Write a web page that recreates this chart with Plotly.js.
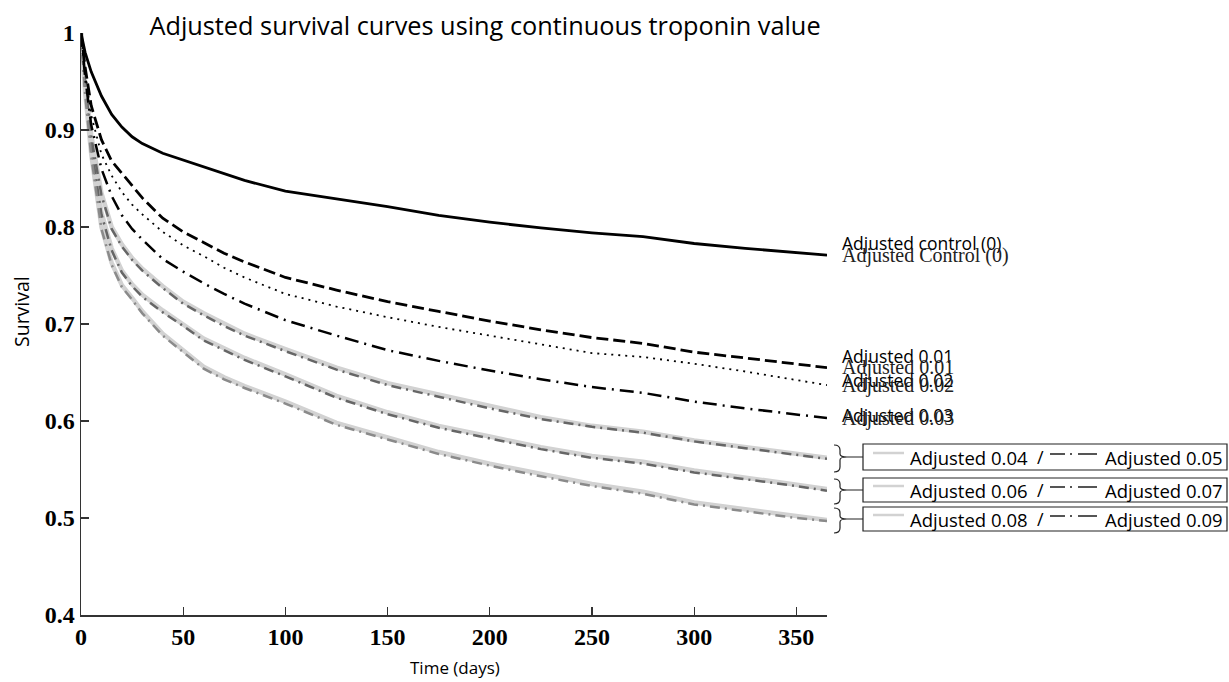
<!DOCTYPE html>
<html>
<head>
<meta charset="utf-8">
<script src="https://cdn.plot.ly/plotly-3.0.1.min.js"></script>
<style>html,body{margin:0;padding:0;background:#fff;}#chart{width:1229px;height:682px;}</style>
</head>
<body>
<div id="chart"></div>
<script>
// ---- data ----
const days = [0, 2, 5, 10, 15, 20, 25, 30, 40, 50, 60, 70, 80, 100, 125, 150, 175, 200, 225, 250, 275, 300, 325, 350, 365];

const control0 = [1.0, 0.980, 0.960, 0.935, 0.916, 0.903, 0.893, 0.886, 0.876, 0.869, 0.862, 0.855, 0.848, 0.837, 0.829, 0.821, 0.812, 0.805, 0.799, 0.794, 0.790, 0.783, 0.778, 0.774, 0.771];
const adj001 = [1.0, 0.965, 0.925, 0.890, 0.868, 0.855, 0.843, 0.830, 0.809, 0.795, 0.784, 0.773, 0.764, 0.748, 0.735, 0.723, 0.713, 0.703, 0.694, 0.686, 0.680, 0.671, 0.665, 0.659, 0.655];
const adj002 = [1.0, 0.960, 0.915, 0.875, 0.853, 0.836, 0.823, 0.813, 0.795, 0.781, 0.770, 0.758, 0.748, 0.731, 0.718, 0.707, 0.697, 0.688, 0.679, 0.670, 0.666, 0.659, 0.651, 0.642, 0.637];
const adj003 = [1.0, 0.955, 0.905, 0.860, 0.832, 0.812, 0.798, 0.787, 0.767, 0.754, 0.742, 0.731, 0.721, 0.704, 0.688, 0.673, 0.662, 0.652, 0.643, 0.635, 0.629, 0.620, 0.613, 0.607, 0.603];
const adj004 = [1.0, 0.950, 0.895, 0.835, 0.800, 0.782, 0.768, 0.757, 0.739, 0.723, 0.711, 0.700, 0.690, 0.674, 0.655, 0.639, 0.627, 0.615, 0.604, 0.595, 0.589, 0.580, 0.573, 0.566, 0.562];
const adj005 = [1.0, 0.948, 0.893, 0.833, 0.798, 0.780, 0.766, 0.755, 0.737, 0.721, 0.709, 0.698, 0.688, 0.672, 0.653, 0.637, 0.625, 0.613, 0.602, 0.594, 0.588, 0.579, 0.572, 0.565, 0.561];
const adj006 = [1.0, 0.945, 0.885, 0.815, 0.778, 0.755, 0.741, 0.730, 0.714, 0.700, 0.685, 0.675, 0.665, 0.648, 0.626, 0.609, 0.595, 0.584, 0.573, 0.564, 0.558, 0.549, 0.542, 0.535, 0.530];
const adj007 = [1.0, 0.943, 0.883, 0.813, 0.776, 0.753, 0.739, 0.728, 0.712, 0.698, 0.683, 0.673, 0.663, 0.646, 0.624, 0.607, 0.593, 0.582, 0.571, 0.562, 0.556, 0.547, 0.540, 0.533, 0.528];
const adj008 = [1.0, 0.940, 0.875, 0.800, 0.763, 0.740, 0.727, 0.713, 0.690, 0.673, 0.656, 0.645, 0.636, 0.620, 0.598, 0.583, 0.568, 0.556, 0.545, 0.535, 0.527, 0.516, 0.509, 0.502, 0.498];
const adj009 = [1.0, 0.938, 0.873, 0.798, 0.761, 0.738, 0.725, 0.711, 0.688, 0.671, 0.654, 0.643, 0.634, 0.618, 0.596, 0.581, 0.566, 0.554, 0.543, 0.533, 0.525, 0.514, 0.507, 0.500, 0.497];

const xTicks = [0, 50, 100, 150, 200, 250, 300, 350];
const yTicks = [0.4, 0.5, 0.6, 0.7, 0.8, 0.9, 1];
const yTickText = ['0.4', '0.5', '0.6', '0.7', '0.8', '0.9', '1'];

const titleText = 'Adjusted survival curves using continuous troponin value';
const xTitle = 'Time (days)';
const yTitle = 'Survival';

// ---- layout geometry (pixels) ----
const W = 1229, H = 682;
const L = 81, R = 827, T = 33, B = 615;
const px = v => (v - L) / (R - L);
const py = v => (B - v) / (B - T);

const SANS = 'Open Sans, sans-serif';
const SERIF = 'Liberation Serif, Times New Roman, serif';

function line(y, name, color, width, dash) {
  return {x: days, y: y, name: name, type: 'scatter', mode: 'lines',
          line: {color: color, width: width, dash: dash}, hoverinfo: 'skip'};
}

const LG = '#d2d2d2';
const traces = [
  line(adj004, 'Adjusted 0.04', LG, 4.5, 'solid'),
  line(adj006, 'Adjusted 0.06', LG, 4.5, 'solid'),
  line(adj008, 'Adjusted 0.08', LG, 4.5, 'solid'),
  line(adj005, 'Adjusted 0.05', '#666666', 2.5, '10px,5px,2px,5px'),
  line(adj007, 'Adjusted 0.07', '#666666', 2.5, '10px,5px,2px,5px'),
  line(adj009, 'Adjusted 0.09', '#8a8a8a', 2.5, '10px,5px,2px,5px'),
  line(adj003, 'Adjusted 0.03', '#000000', 2.5, '14px,6px,2px,6px'),
  line(adj002, 'Adjusted 0.02', '#000000', 1.8, '2px,5px'),
  line(adj001, 'Adjusted 0.01', '#000000', 2.8, '12px,5px'),
  line(control0, 'Adjusted control (0)', '#000000', 2.8, 'solid')
];

const last = a => a[a.length - 1];

const annotations = [];
// right-hand labels: sans (slightly above) and serif (at curve end), overlapping like the reference
const rightLabels = [
  {sans: 'Adjusted control (0)', serif: 'Adjusted Control (0)', ySans: last(control0) + 0.012, ySerif: last(control0)},
  {sans: 'Adjusted 0.01', serif: 'Adjusted 0.01', ySans: last(adj001) + 0.012, ySerif: last(adj001)},
  {sans: 'Adjusted 0.02', serif: 'Adjusted 0.02', ySans: last(adj002) + 0.005, ySerif: last(adj002)},
  {sans: 'Adjusted 0.03', serif: 'Adjusted 0.03', ySans: last(adj003) + 0.003, ySerif: last(adj003)}
];
rightLabels.forEach(r => {
  annotations.push({xref: 'x', yref: 'y', x: 365, y: r.ySans, xanchor: 'left', yanchor: 'middle', xshift: 13,
    text: r.sans, showarrow: false, font: {family: SANS, size: 17.5, color: '#000'}});
  annotations.push({xref: 'x', yref: 'y', x: 365, y: r.ySerif, xanchor: 'left', yanchor: 'middle', xshift: 13,
    text: r.serif, showarrow: false, font: {family: SERIF, size: 20, color: '#222'}});
});

// boxed legends for gray pairs
const boxes = [
  {a: 'Adjusted 0.04', b: 'Adjusted 0.05', top: 444, bot: 470},
  {a: 'Adjusted 0.06', b: 'Adjusted 0.07', top: 478, bot: 502},
  {a: 'Adjusted 0.08', b: 'Adjusted 0.09', top: 507, bot: 531}
];
const shapes = [];
boxes.forEach(bx => {
  const mid = (bx.top + bx.bot) / 2;
  shapes.push({type: 'rect', xref: 'paper', yref: 'paper', x0: px(863), x1: px(1227), y0: py(bx.top), y1: py(bx.bot),
    line: {color: '#222', width: 1.2}, fillcolor: 'rgba(0,0,0,0)'});
  shapes.push({type: 'line', xref: 'paper', yref: 'paper', x0: px(873), x1: px(904), y0: py(mid - 4), y1: py(mid - 4),
    line: {color: LG, width: 2.5}});
  shapes.push({type: 'line', xref: 'paper', yref: 'paper', x0: px(1050), x1: px(1097), y0: py(mid - 3), y1: py(mid - 3),
    line: {color: '#555', width: 2.2, dash: '15px,5px,2px,6px,20px,20px'}});
  // brace
  const x0 = 834, xm = 840, xt = 847, yt = bx.top + 1, yb = bx.bot + 2;
  const P = (x, y) => px(x) + ',' + py(y);
  const path = 'M' + P(x0, yt) + ' Q' + P(xm, yt) + ' ' + P(xm, yt + 5) +
    ' L' + P(xm, mid - 3) + ' Q' + P(xm, mid) + ' ' + P(xt, mid) +
    ' Q' + P(xm, mid) + ' ' + P(xm, mid + 3) +
    ' L' + P(xm, yb - 5) + ' Q' + P(xm, yb) + ' ' + P(x0, yb) +
    ' M' + P(xt, mid) + ' L' + P(863, mid);
  shapes.push({type: 'path', xref: 'paper', yref: 'paper', path: path, line: {color: '#222', width: 1.2}});
  annotations.push({xref: 'paper', yref: 'paper', x: px(908), y: py(mid), xanchor: 'left', yanchor: 'middle',
    text: bx.a, showarrow: false, font: {family: SANS, size: 18.5, color: '#000'}});
  annotations.push({xref: 'paper', yref: 'paper', x: px(1040), y: py(mid), xanchor: 'center', yanchor: 'middle',
    text: '/', showarrow: false, font: {family: SANS, size: 18, color: '#000'}});
  annotations.push({xref: 'paper', yref: 'paper', x: px(1103), y: py(mid), xanchor: 'left', yanchor: 'middle',
    text: bx.b, showarrow: false, font: {family: SANS, size: 18.5, color: '#000'}});
});

// axis titles as annotations to match reference placement
annotations.push({xref: 'paper', yref: 'paper', x: px(21), y: py(312), xanchor: 'center', yanchor: 'middle',
  text: yTitle, textangle: -90, showarrow: false, font: {family: SANS, size: 19.5, color: '#000'}});
annotations.push({xref: 'paper', yref: 'paper', x: px(455), y: py(668), xanchor: 'center', yanchor: 'middle',
  text: xTitle, showarrow: false, font: {family: SANS, size: 17, color: '#000'}});

const layout = {
  width: W, height: H,
  margin: {l: L, r: W - R, t: T, b: H - B},
  paper_bgcolor: '#fff', plot_bgcolor: '#fff',
  showlegend: false,
  title: {text: titleText, font: {family: SANS, size: 25.3, color: '#000'},
          x: 485 / W, xref: 'container', xanchor: 'center', y: 1 - 26 / H, yref: 'container', yanchor: 'middle'},
  xaxis: {range: [0, 365], tickvals: xTicks, ticktext: xTicks.map(String), ticks: 'inside', ticklen: 8,
          tickcolor: '#333', tickwidth: 1.3, showline: true, linecolor: '#333', linewidth: 1.5,
          showgrid: false, zeroline: false, mirror: false,
          tickfont: {family: SERIF, size: 24, color: '#000', weight: 'bold'}},
  yaxis: {range: [0.4, 1], tickvals: yTicks, ticktext: yTickText, ticks: 'inside', ticklen: 8,
          tickcolor: '#333', tickwidth: 1.3, showline: true, linecolor: '#333', linewidth: 1.5,
          showgrid: false, zeroline: false, mirror: false,
          tickfont: {family: SERIF, size: 24, color: '#000', weight: 'bold'}},
  shapes: shapes,
  annotations: annotations
};

Plotly.newPlot('chart', traces, layout, {displayModeBar: false, staticPlot: true});
</script>
</body>
</html>
